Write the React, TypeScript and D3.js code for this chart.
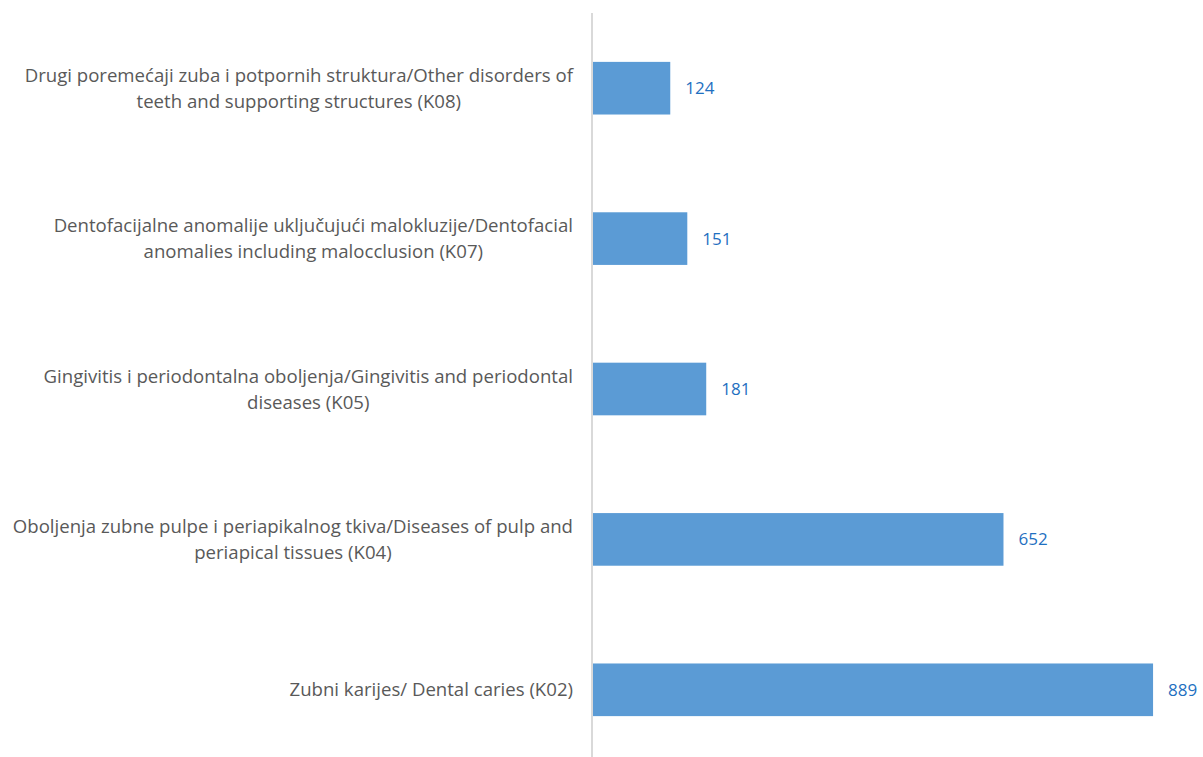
import React, { useEffect, useRef } from 'react';
import * as d3 from 'd3';

// categories top to bottom, each one split into its wrapped lines
const categories = [
  ['Drugi poremećaji zuba i potpornih struktura/Other disorders of', 'teeth and supporting structures (K08)'],
  ['Dentofacijalne anomalije uključujući malokluzije/Dentofacial', 'anomalies including malocclusion (K07)'],
  ['Gingivitis i periodontalna oboljenja/Gingivitis and periodontal', 'diseases (K05)'],
  ['Oboljenja zubne pulpe i periapikalnog tkiva/Diseases of pulp and', 'periapical tissues (K04)'],
  ['Zubni karijes/ Dental caries (K02)'],
];
const values = [124, 151, 181, 652, 889];

const W = 1203;
const H = 757;

function App() {
  const svgRef = useRef<SVGSVGElement>(null);

  useEffect(() => {
    const svg = d3.select(svgRef.current);
    svg.selectAll('*').remove();

    const idx = categories.map((_, i) => String(i));
    const y = d3.scaleBand().domain(idx).range([13, 765]).paddingInner(0.65).paddingOuter(0.325);
    const x = d3.scaleLinear().domain([0, 900]).range([592, 1160]);

    const font = "'Open Sans', sans-serif";
    const fontSize = 18.6;
    const labelRight = 573;
    const lineH = 26;

    // bars
    svg.append('g')
      .selectAll('rect')
      .data(values)
      .join('rect')
      .attr('x', x(0))
      .attr('y', (_, i) => y(String(i))!)
      .attr('width', d => x(d) - x(0))
      .attr('height', y.bandwidth())
      .attr('fill', '#5B9BD5');

    // axis line
    svg.append('line')
      .attr('x1', x(0)).attr('x2', x(0))
      .attr('y1', 13).attr('y2', H)
      .attr('stroke', '#D9D9D9')
      .attr('stroke-width', 2);

    // value labels
    svg.append('g')
      .selectAll('text')
      .data(values)
      .join('text')
      .attr('x', d => x(d) + 15)
      .attr('y', (_, i) => y(String(i))! + y.bandwidth() / 2)
      .attr('dy', '0.35em')
      .attr('font-family', font)
      .attr('font-size', 17)
      .attr('fill', '#1F70C1')
      .text(d => d);

    // category labels: lines centred in a block that is right-aligned
    categories.forEach((lines, i) => {
      const g = svg.append('g');
      const cy = y(String(i))! + y.bandwidth() / 2;
      const texts = lines.map((ln, j) =>
        g.append('text')
          .attr('y', cy + (j - (lines.length - 1) / 2) * lineH)
          .attr('dy', '0.35em')
          .attr('font-family', font)
          .attr('font-size', fontSize)
          .attr('fill', '#595959')
          .attr('text-anchor', 'middle')
          .text(ln)
      );
      const widths = texts.map(t => (t.node() as SVGTextElement).getComputedTextLength());
      const maxW = d3.max(widths) || 0;
      texts.forEach(t => t.attr('x', labelRight - maxW / 2));
    });
  }, []);

  return (
    <svg
      ref={svgRef}
      width={W}
      height={H}
      style={{ position: 'absolute', left: 0, top: 0, display: 'block', background: '#fff' }}
    />
  );
}

export default App;
